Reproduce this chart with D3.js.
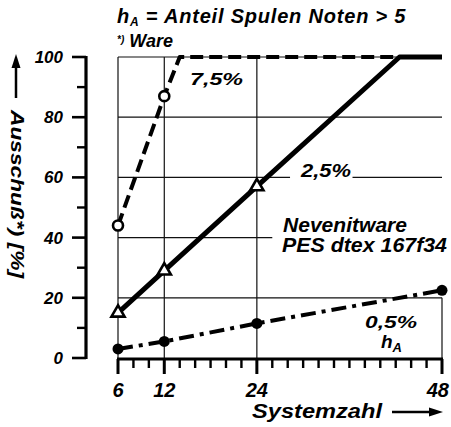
<!DOCTYPE html>
<html>
<head>
<meta charset="utf-8">
<script src="https://cdn.jsdelivr.net/npm/d3@7"></script>
<style>
  html, body { margin: 0; padding: 0; background: #fff; }
  svg { display: block; }
  text { font-family: "Liberation Sans", Arial, sans-serif; font-style: italic; font-weight: bold; fill: #000; }
</style>
</head>
<body>
<script>
// Ausschuss in relation to the Systemzahl, for three shares h_A
const xTickValues = [6, 12, 24, 48];
const yTickValues = [0, 20, 40, 60, 80, 100];
const yMinorValues = [10, 30, 50, 70, 90];

// 7,5 % series (dashed, open circles)
const s75x = [6, 12, 14, 48];
const s75y = [44, 87, 100, 100];
const s75markers = 2;

// 2,5 % series (solid, open triangles)
const s25x = [6, 12, 24, 42.5, 48];
const s25y = [15, 29, 57, 100, 100];
const s25markers = 3;

// 0,5 % series (dash-dot, filled circles)
const s05x = [6, 12, 24, 48];
const s05y = [3, 5.5, 11.5, 22.5];

const W = 451, H = 427;
const x = d3.scaleLinear().domain([6, 48]).range([118, 442]);
const y = d3.scaleLinear().domain([0, 100]).range([358, 57]);

const svg = d3.select("body").append("svg").attr("width", W).attr("height", H);

// grid: horizontal lines, some interrupted by the annotations
const hGrid = [
  {v: 100, a: 6, b: 48},
  {v: 80, a: 6, b: 48},
  {v: 60, a: 6, b: 28.3},
  {v: 60, a: 36.4, b: 48},
  {v: 40, a: 6, b: 26.0},
  {v: 20, a: 6, b: 48}
];
svg.append("g").selectAll("line").data(hGrid).join("line")
  .attr("x1", d => x(d.a)).attr("x2", d => x(d.b))
  .attr("y1", d => y(d.v)).attr("y2", d => y(d.v))
  .attr("stroke", "#111").attr("stroke-width", 1.2);

const vGrid = [
  {v: 6, a: 0, b: 100},
  {v: 12, a: 0, b: 100},
  {v: 24, a: 0, b: 100},
  {v: 48, a: 0, b: 20}
];
svg.append("g").selectAll("line").data(vGrid).join("line")
  .attr("x1", d => x(d.v)).attr("x2", d => x(d.v))
  .attr("y1", d => y(d.a)).attr("y2", d => y(d.b))
  .attr("stroke", "#111").attr("stroke-width", 1.2);

// x axis with minor ticks every 2 units
const xAxisY = 359;
svg.append("line").attr("x1", x(6) - 1).attr("x2", x(48) + 1)
  .attr("y1", xAxisY).attr("y2", xAxisY)
  .attr("stroke", "#000").attr("stroke-width", 3.2);
const xMinor = d3.range(6, 49, 2);
svg.append("g").selectAll("line").data(xMinor).join("line")
  .attr("x1", d => x(d)).attr("x2", d => x(d))
  .attr("y1", xAxisY).attr("y2", d => xTickValues.includes(d) ? 374 : 368)
  .attr("stroke", "#000").attr("stroke-width", d => xTickValues.includes(d) ? 3 : 2.4);
svg.append("g").selectAll("text").data(xTickValues).join("text")
  .attr("x", d => d === 48 ? 449 : x(d)).attr("y", 397)
  .attr("text-anchor", d => d === 48 ? "end" : "middle").attr("font-size", 20)
  .text(d => d);

// y axis, drawn apart from the grid frame
const yAxisX = 86;
svg.append("line").attr("x1", yAxisX).attr("x2", yAxisX)
  .attr("y1", y(100) - 1).attr("y2", y(0) + 1)
  .attr("stroke", "#000").attr("stroke-width", 3.2);
svg.append("g").selectAll("line").data(yTickValues).join("line")
  .attr("x1", 72).attr("x2", yAxisX).attr("y1", d => y(d)).attr("y2", d => y(d))
  .attr("stroke", "#000").attr("stroke-width", 2.6);
svg.append("g").selectAll("line").data(yMinorValues).join("line")
  .attr("x1", 77).attr("x2", yAxisX).attr("y1", d => y(d)).attr("y2", d => y(d))
  .attr("stroke", "#000").attr("stroke-width", 2.4);
svg.append("g").selectAll("text").data(yTickValues).join("text")
  .attr("x", 63).attr("y", d => y(d) + 6)
  .attr("text-anchor", "end").attr("font-size", 17)
  .text(d => d);

// series lines
const pts = (xs, ys) => xs.map((v, i) => [x(v), y(ys[i])]);
const lineGen = d3.line();

svg.append("path").attr("d", lineGen(pts(s25x, s25y)))
  .attr("fill", "none").attr("stroke", "#000").attr("stroke-width", 5)
  .attr("stroke-linejoin", "round");

svg.append("path").attr("d", lineGen(pts(s75x, s75y)))
  .attr("fill", "none").attr("stroke", "#000").attr("stroke-width", 4)
  .attr("stroke-dasharray", "13,6").attr("stroke-linejoin", "round");

svg.append("path").attr("d", lineGen(pts(s05x, s05y)))
  .attr("fill", "none").attr("stroke", "#000").attr("stroke-width", 4)
  .attr("stroke-dasharray", "15,6,4,6");

// markers
svg.append("g").selectAll("circle").data(pts(s75x, s75y).slice(0, s75markers)).join("circle")
  .attr("cx", d => d[0]).attr("cy", d => d[1]).attr("r", 5)
  .attr("fill", "#fff").attr("stroke", "#000").attr("stroke-width", 2.6);

const tri = d3.symbol().type(d3.symbolTriangle).size(75);
svg.append("g").selectAll("path").data(pts(s25x, s25y).slice(0, s25markers)).join("path")
  .attr("d", tri).attr("transform", d => `translate(${d[0]},${d[1]})`)
  .attr("fill", "#fff").attr("stroke", "#000").attr("stroke-width", 2.6);

svg.append("g").selectAll("circle").data(pts(s05x, s05y)).join("circle")
  .attr("cx", d => d[0]).attr("cy", d => d[1]).attr("r", 5.5)
  .attr("fill", "#000");

// annotations (widened lettering)
const label = (tx, ty, size, width, str) => svg.append("text").attr("x", tx).attr("y", ty)
  .attr("font-size", size).attr("textLength", width).attr("lengthAdjust", "spacingAndGlyphs")
  .text(str);

label(190, 85, 17, 53, "7,5%");
label(301, 177, 19, 50, "2,5%");
label(283, 232, 20, 124, "Nevenitware");
label(282, 252, 20, 165, "PES dtex 167f34");
label(365, 328, 17, 52, "0,5%");

const hA = svg.append("text").attr("x", 381).attr("y", 348).attr("font-size", 19);
hA.append("tspan").text("h");
hA.append("tspan").attr("font-size", 13).attr("dy", 4).text("A");

const title = svg.append("text").attr("x", 117).attr("y", 23).attr("font-size", 20)
  .attr("letter-spacing", 0.8);
title.append("tspan").text("h");
title.append("tspan").attr("font-size", 12).attr("dy", 3).text("A");
title.append("tspan").attr("dy", -3).text(" = Anteil Spulen Noten > 5");

const ware = svg.append("text").attr("x", 117).attr("y", 47).attr("font-size", 18);
ware.append("tspan").attr("font-size", 10).attr("dy", -4).text("*)");
ware.append("tspan").attr("dy", 4).text(" Ware");

// axis titles with arrows
svg.append("text").attr("transform", "translate(11,110) rotate(90)")
  .attr("font-size", 18).attr("textLength", 168).attr("lengthAdjust", "spacingAndGlyphs")
  .text("Ausschuß*) [%]");
svg.append("line").attr("x1", 16).attr("x2", 16).attr("y1", 98).attr("y2", 66)
  .attr("stroke", "#000").attr("stroke-width", 2.5);
svg.append("path").attr("d", "M16,54 L11.5,68 L20.5,68 Z").attr("fill", "#000");

svg.append("text").attr("x", 252).attr("y", 418).attr("font-size", 20)
  .attr("textLength", 130).attr("lengthAdjust", "spacingAndGlyphs").text("Systemzahl");
svg.append("line").attr("x1", 392).attr("x2", 430).attr("y1", 412).attr("y2", 412)
  .attr("stroke", "#000").attr("stroke-width", 2.5);
svg.append("path").attr("d", "M443,412 L429,407.5 L429,416.5 Z").attr("fill", "#000");
</script>
</body>
</html>
